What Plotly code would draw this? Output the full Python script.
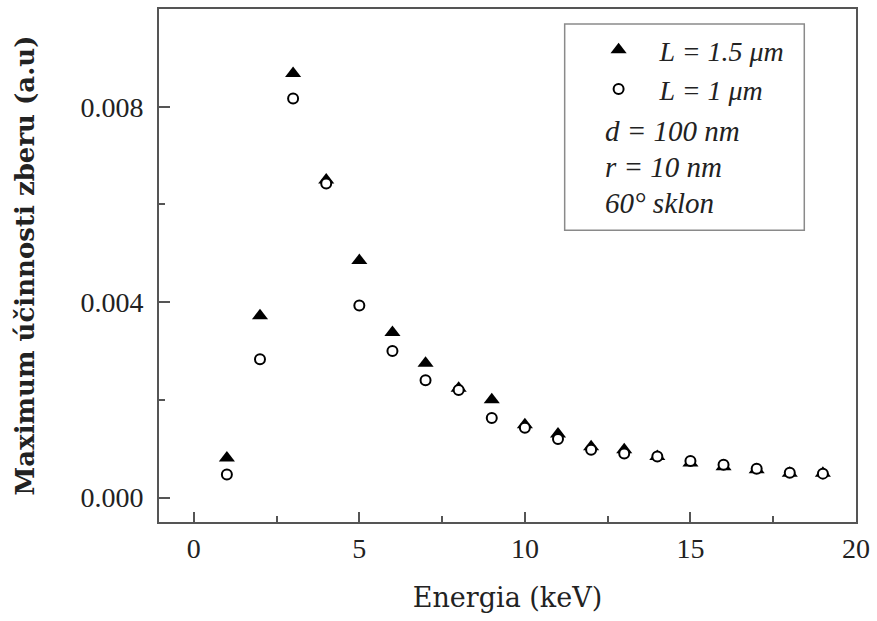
import plotly.graph_objects as go

energy = [1, 2, 3, 4, 5, 6, 7, 8, 9, 10, 11, 12, 13, 14, 15, 16, 17, 18, 19]
eff_L15 = [0.00081, 0.00372, 0.00868, 0.00650, 0.00485, 0.00338, 0.00275, 0.00224, 0.00200,
           0.00149, 0.00130, 0.00104, 0.00098, 0.00084, 0.00071, 0.00063, 0.00057, 0.00050, 0.00050]
eff_L1 = [0.00047, 0.00283, 0.00817, 0.00643, 0.00393, 0.00300, 0.00240, 0.00220, 0.00163,
          0.00143, 0.00120, 0.00098, 0.00090, 0.00084, 0.00075, 0.00067, 0.00059, 0.00051, 0.00049]
name_L15 = "L = 1.5 μm"
name_L1 = "L = 1 μm"
notes = ["d = 100 nm", "r = 10 nm", "60° sklon"]
x_title = "Energia (keV)"
y_title = "Maximum účinnosti zberu (a.u)"

axis_col = "#555555"
serif = "Times New Roman, Liberation Serif, serif"
L, R, T, B = 159, 17, 7, 99
W, H = 877, 621
pw, ph = W - L - R, H - T - B

def px(xp):
    return (xp - L) / pw

def py(yp):
    return (H - B - yp) / ph

fig = go.Figure()
fig.add_trace(go.Scatter(
    x=energy, y=eff_L15, mode="markers", name=name_L15,
    marker=dict(symbol="triangle-up", size=14, color="black", line=dict(width=0)),
))
fig.add_trace(go.Scatter(
    x=energy, y=eff_L1, mode="markers", name=name_L1,
    marker=dict(symbol="circle", size=10, color="white", line=dict(width=2, color="black")),
))

fig.add_shape(type="rect", xref="paper", yref="paper",
              x0=px(567), x1=px(808), y0=py(229), y1=py(22),
              line=dict(color="#8a8a8a", width=1.5), fillcolor="rgba(0,0,0,0)")

for txt, yp in zip(notes, [129, 166, 202]):
    fig.add_annotation(text=txt, xref="paper", yref="paper", x=px(606), y=py(yp),
                       xanchor="left", yanchor="middle", showarrow=False,
                       font=dict(family=serif, size=29, color="#222222", style="italic"))

fig.update_layout(
    width=W, height=H,
    margin=dict(l=L, r=R, t=T, b=B),
    paper_bgcolor="white", plot_bgcolor="white",
    showlegend=True,
    legend=dict(x=px(580), y=py(23), xanchor="left", yanchor="top",
                bgcolor="rgba(0,0,0,0)", borderwidth=0, itemwidth=72,
                font=dict(family=serif, size=28, color="#222222", style="italic")),
    xaxis=dict(
        range=[-1.05, 20], tickmode="array", tickvals=[0, 5, 10, 15, 20],
        ticks="inside", ticklen=10, tickwidth=1.5, tickcolor=axis_col,
        minor=dict(tickvals=[2.5, 7.5, 12.5, 17.5], ticks="inside", ticklen=6,
                   tickwidth=1.5, tickcolor=axis_col),
        showline=True, linecolor=axis_col, linewidth=2, mirror=True,
        showgrid=False, zeroline=False,
        ticklabelstandoff=0,
        tickfont=dict(family=serif, size=28, color="#222222"),
        title=dict(text=x_title, standoff=26,
                   font=dict(family="DejaVu Serif", size=27, color="#222222")),
    ),
    yaxis=dict(
        range=[-0.0005, 0.010], tickmode="array", tickvals=[0.0, 0.004, 0.008],
        tickformat=".3f",
        ticks="inside", ticklen=11, tickwidth=1.5, tickcolor=axis_col,
        minor=dict(tickvals=[0.002, 0.006], ticks="inside", ticklen=6,
                   tickwidth=1.5, tickcolor=axis_col),
        showline=True, linecolor=axis_col, linewidth=2, mirror=True,
        showgrid=False, zeroline=False,
        ticklabelstandoff=8,
        tickfont=dict(family=serif, size=28, color="#222222"),
        title=dict(text=y_title, standoff=38,
                   font=dict(family="DejaVu Serif", size=26, color="#222222", weight="bold")),
    ),
)

fig.write_html("out.html")
